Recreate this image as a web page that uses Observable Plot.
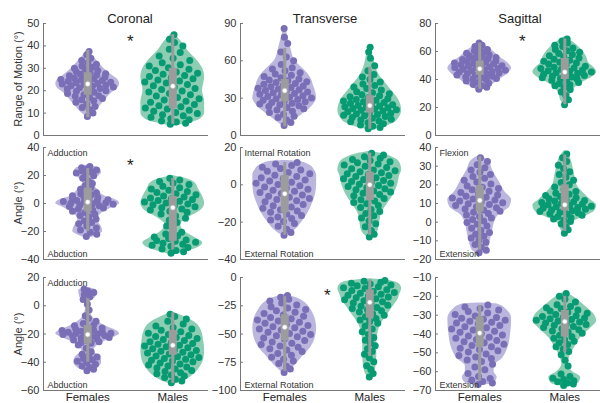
<!DOCTYPE html>
<html><head><meta charset="utf-8">
<script src="https://cdn.jsdelivr.net/npm/d3@7"></script>
<script src="https://cdn.jsdelivr.net/npm/@observablehq/plot@0.6"></script>
<style>
body{margin:0;background:#fff;font-family:"Liberation Sans",Arial,sans-serif;}
#chart{position:relative;width:600px;height:403px;overflow:hidden;background:#fff;}
.title{position:absolute;font-size:13px;color:#222;transform:translate(-50%,-50%);white-space:nowrap;}
.ylab{position:absolute;font-size:11px;color:#333;transform:translate(-50%,-50%) rotate(-90deg);white-space:nowrap;}
</style></head><body><div id="chart"></div>
<script>
// ---------- data ----------
const planes = ["Coronal", "Transverse", "Sagittal"];
const groups = ["Females", "Males"];
const rowLabels = ["Range of Motion (°)", "Angle (°)", "Angle (°)"];
const yDomains = [[0,50],[0,90],[0,80],[-40,40],[-40,20],[-20,40],[-60,20],[-100,0],[-70,-10]];
const yTicks = [[0,10,20,30,40,50],[0,30,60,90],[0,20,40,60,80],
  [-40,-20,0,20,40],[-40,-20,0,20],[-20,-10,0,10,20,30,40],
  [-60,-40,-20,0,20],[-100,-75,-50,-25,0],[-70,-60,-50,-40,-30,-20,-10]];
const topNotes = ["","","","Adduction","Internal Rotation","Flexion","Adduction","",""];
const bottomNotes = ["","","","Abduction","External Rotation","Extension","Abduction","External Rotation","Extension"];
const significant = [true,false,true,true,false,false,false,true,false];

// violin outlines: [value, relative density]
const femaleViolin = [
  [[8,0],[10,6],[13,12],[16,18],[19,24],[21,30],[23,32],[25,30],[27,24],[30,16],[33,10],[36,4],[38.5,0]],
  [[6.5,0],[10,6],[15,14],[20,22],[25,28],[30,31],[35,30],[40,28],[45,26],[50,22],[55,16],[60,10],[70,6],[80,3],[88,0]],
  [[32,0],[33,4],[36,12],[40,20],[44,28],[48,32],[52,28],[56,20],[60,14],[63,8],[67.5,0]],
  [[-25,0],[-23,8],[-20,15],[-17,14],[-12,10],[-7,14],[-3,24],[0,32],[2,30],[5,18],[10,10],[15,5],[19,10],[22,14],[25,12],[27.5,0]],
  [[-28,0],[-25,8],[-20,16],[-15,22],[-10,26],[-5,29],[0,30],[5,30],[8,28],[11,22],[12.5,14],[13,0]],
  [[-17.5,0],[-15,7],[-10,10],[-5,12],[0,14],[4,18],[8,28],[12,30],[16,24],[22,18],[28,12],[33,8],[36,0]],
  [[-47,0],[-44,10],[-40,14],[-36,12],[-32,6],[-27,12],[-23,24],[-20,32],[-18,30],[-15,20],[-10,8],[-8,5],[-5,3],[0,2],[3,3],[6,8],[11,9],[13,0]],
  [[-86,0],[-83,4],[-78,10],[-70,18],[-62,26],[-55,30],[-45,32],[-35,30],[-28,26],[-22,20],[-18,12],[-15,0]],
  [[-67.5,0],[-66,14],[-63,17],[-60,14],[-57,14],[-53,22],[-48,27],[-40,30],[-32,31],[-27,26],[-24,16],[-23.5,0]]
];
const maleViolin = [
  [[4,0],[5,10],[7,25],[10,30],[15,30],[20,28],[26,30],[30,28],[34,22],[38,14],[42,8],[46,0]],
  [[4.5,0],[6,10],[10,24],[15,30],[20,32],[25,31],[30,28],[36,22],[42,16],[48,10],[55,6],[65,3],[72.5,0]],
  [[21,0],[25,4],[30,6],[34,10],[38,18],[42,28],[45,32],[48,30],[52,24],[56,22],[62,16],[67,8],[70.5,0]],
  [[-37,0],[-35,10],[-32,24],[-28,30],[-25,24],[-20,12],[-15,8],[-10,16],[-5,28],[0,32],[5,30],[10,26],[15,22],[18,12],[20,0]],
  [[-29,0],[-25,8],[-20,10],[-15,12],[-10,18],[-5,24],[0,28],[5,30],[8,32],[12,30],[15,22],[17,10],[18,0]],
  [[-7.5,0],[-3,5],[0,8],[3,20],[6,30],[9,32],[12,26],[16,18],[20,12],[25,10],[30,8],[35,5],[38.5,0]],
  [[-56,0],[-54,8],[-50,18],[-44,26],[-38,30],[-32,31],[-25,30],[-18,28],[-12,22],[-8,12],[-4.5,0]],
  [[-90,0],[-87,3],[-80,6],[-70,7],[-60,7],[-50,8],[-40,12],[-35,16],[-30,20],[-25,24],[-20,28],[-15,30],[-10,32],[-6,30],[-3,22],[-1,0]],
  [[-68,0],[-66,14],[-63,16],[-60,8],[-56,3],[-52,5],[-47,10],[-42,16],[-37,26],[-33,32],[-30,30],[-25,20],[-20,8],[-17.5,0]]
];

// summary: [lower whisker, q1, median, q3, upper whisker]
const femaleStats = [[8,18,23,28,38],[7,27,36,45,70],[33,43,47.6,53,66],[-20,-6,1,11,25],[-27,-15,-4.8,5,12],[-15,5.4,11.6,19.6,35],[-40,-27,-20.4,-14,5],[-83,-56,-44,-33,-17],[-65,-47,-39.5,-31,-25]];
const maleStats = [[5,12,22,30,45],[5,18,24,32,55],[22,40,45.3,55,69],[-33,-27,-3,5,18],[-27,-8.4,0,6.8,17],[-5,6,9.3,20,36],[-55,-35,-28,-17.5,-5],[-70,-36,-22,-11,-2],[-50,-41.6,-33.4,-27.5,-20]];

// individual observations
const femalePts = [
  [8.5,10,11.5,12.5,13,14,14.8,15.5,16,16.5,17,17.5,17.8,18.2,18.8,19.3,19.7,20,20.4,20.8,21,21.3,21.6,22,22.2,22.5,22.8,23,23.2,23.5,23.8,24,24.2,24.5,24.8,25,25.3,25.6,26,26.3,26.7,27,27.3,27.6,28,28.5,29,29.5,30,30.5,31,31.8,32.5,33.5,34.5,36,37.5],
  [8,10.5,12.5,14.5,15.5,17,18.5,19.5,20.5,21.5,22.5,23.3,24,24.7,25.3,26,26.6,27.2,27.8,28.4,29,29.6,30.2,30.8,31.4,32,32.6,33.2,33.8,34.4,34.9,35.5,36.1,36.7,37.3,37.9,38.5,39.1,39.7,40.4,41.1,41.8,42.5,43.2,43.9,44.6,45.5,46.5,47.5,48.5,49.5,50.5,52,53.5,54.5,57,60,63,67,74,79,86],
  [33,34.5,35.5,36.5,37.3,38.1,38.9,39.6,40.3,40.8,41.3,41.8,42.3,42.8,43.3,43.8,44.2,44.6,45,45.4,45.8,46.2,46.6,47,47.4,47.8,48.2,48.6,49,49.4,49.8,50.2,50.6,51,51.4,51.8,52.3,52.8,53.3,53.8,54.3,54.8,55.3,55.8,56.4,57,57.6,58.2,58.8,59.4,60.5,61.5,62.5,63.5,64.5,66],
  [-23.5,-22,-20.5,-19,-17.5,-16,-14.5,-13.5,-12.5,-11,-9.5,-8.5,-7.5,-6.5,-5.5,-4.7,-4,-3.3,-2.6,-2.1,-1.6,-1.1,-0.6,-0.2,0.2,0.6,1,1.4,1.8,2.2,2.6,2.9,3.5,4.2,4.9,5.6,6.3,7,7.7,8.8,10.2,11.5,12.8,14.2,16,18,19.8,20.8,21.8,22.5,23.2,24,24.8,25.6,26.5],
  [-27,-25.5,-23.8,-22.2,-20.7,-19.6,-18.8,-18,-17.2,-16.4,-15.6,-14.7,-14,-13.3,-12.6,-11.9,-11.2,-10.5,-9.7,-9.1,-8.5,-7.9,-7.3,-6.7,-6.1,-5.5,-4.7,-4.1,-3.5,-2.9,-2.3,-1.7,-1.1,-0.5,0.2,0.8,1.4,2,2.6,3.2,3.8,4.4,5.2,5.9,6.6,7.3,8,8.7,9.4,10.3,11.2,12],
  [-16.5,-15,-13.5,-12,-10.8,-9.5,-8.5,-7.5,-6.5,-5.5,-4.3,-3.2,-2.1,-1.1,-0.2,0.6,1.4,2.2,3,3.8,4.6,5.3,5.9,6.5,7.1,7.7,8.3,8.9,9.4,9.9,10.4,10.9,11.4,11.9,12.4,12.9,13.4,13.9,14.5,15.2,15.9,16.6,17.3,18,18.7,19.4,20.5,21.5,22.5,23.5,24.5,25.6,26.8,28,29.2,30.8,32.5,34.5],
  [-46,-45,-43.8,-42.6,-41.4,-40.3,-39.3,-38.3,-37.3,-36.3,-35.3,-34.3,-32.5,-30,-27.8,-26.6,-26,-25.4,-24.8,-24.2,-23.6,-23,-22.4,-21.8,-21.4,-21,-20.6,-20.3,-20,-19.7,-19.4,-19.1,-18.8,-18.4,-18,-17.6,-17.2,-16.6,-15.8,-15,-14.2,-13.4,-12.6,-11,-9,-7,-3,1,4.5,6.3,8,9.3,10.5,11.8],
  [-84,-81,-78.5,-76,-74,-72.3,-70.6,-68.9,-67.2,-65.5,-64.2,-63,-61.8,-60.6,-59.4,-58.2,-57,-55.8,-54.5,-53.5,-52.5,-51.5,-50.5,-49.5,-48.5,-47.5,-46.5,-45.5,-44.5,-43.5,-42.5,-41.5,-40.5,-39.5,-38.5,-37.5,-36.5,-35.5,-34.3,-33.1,-31.9,-30.7,-29.5,-28.3,-27.1,-25.9,-24.3,-22.6,-20.9,-19.2,-17.5,-16],
  [-66.8,-66,-65.2,-64.4,-63.6,-62.5,-61,-59,-57.5,-56,-54.6,-53.8,-53,-52.2,-51.4,-50.6,-49.6,-48.9,-48.2,-47.5,-46.8,-46.1,-45.4,-44.7,-44.1,-43.5,-42.9,-42.3,-41.7,-41.1,-40.5,-39.7,-39.1,-38.5,-37.9,-37.3,-36.7,-36.1,-35.5,-34.7,-34.2,-33.7,-33.2,-32.7,-32.2,-31.7,-31.2,-30.5,-29.6,-28.8,-28,-27.2,-26.4,-25.6,-24.6]
];
const malePts = [
  [5,5.5,6,6.5,7,7.5,8.2,8.8,9.3,9.8,10.3,10.8,11.3,11.8,12.3,12.8,13.3,13.8,14.3,14.8,15.3,15.8,16.4,17,17.6,18.2,18.8,19.4,19.9,20.5,21,21.6,22.2,22.8,23.4,23.9,24.3,24.8,25.3,25.8,26.3,26.8,27.3,27.8,28.4,29,29.6,30.3,31,31.6,32.5,33.5,34.5,35.5,37,38.5,40,41.5,43,45],
  [5.5,6.5,7.5,8.5,9.5,10.3,11,11.7,12.4,13.1,13.8,14.5,15.2,15.8,16.3,16.8,17.3,17.8,18.4,19,19.6,20.2,20.7,21.2,21.7,22.2,22.7,23.2,23.7,24.2,24.7,25.3,25.9,26.5,27.1,27.7,28.3,28.9,29.5,30.3,31.1,31.9,32.7,33.5,34.3,35.1,36.5,37.7,38.9,40.1,41.3,43,45,47,49,52,56,62,67,71],
  [22,25.5,28.5,31,32.8,34.3,35.5,36.3,37.1,37.9,38.7,39.5,40.3,40.8,41.3,41.8,42.3,42.8,43.3,43.8,44.3,44.8,45.3,45.8,46.3,46.8,47.3,47.8,48.3,48.8,49.4,50.3,51,51.7,52.4,53.1,53.8,54.5,55.4,56.2,57,57.8,58.6,59.4,60.5,61.5,62.5,63.5,64.5,66,67.5,69],
  [-35.5,-34.5,-33.5,-32.5,-31.5,-30.5,-29.8,-29.1,-28.4,-27.7,-27,-26.5,-26,-25,-24,-23,-21.8,-20.5,-18.5,-16,-13.5,-12,-10.5,-9,-7.5,-6.3,-5.5,-4.7,-3.9,-3.1,-2.3,-1.6,-0.9,-0.3,0.4,1,1.6,2.2,2.8,3.4,4,4.7,5.4,6.2,7,7.8,8.6,9.4,10.3,11.2,12.3,13.5,14.6,15.7,16.8,18],
  [-28,-26.5,-24.5,-22.5,-20.8,-19.2,-17.8,-16.6,-15.4,-14.3,-13.2,-12.1,-11.1,-10.2,-9.4,-8.7,-8,-7.3,-6.6,-5.9,-5.2,-4.5,-3.9,-3.3,-2.7,-2.1,-1.5,-0.9,-0.3,0.3,0.8,1.3,1.8,2.3,2.8,3.3,3.8,4.4,5,5.5,6,6.5,7,7.5,8,8.6,9.3,10,10.6,11.2,11.8,12.4,13,13.6,14.3,15.1,16,16.9],
  [-6,-4,-2.5,-1,0.3,1,1.7,2.4,3.1,3.7,4.2,4.5,4.9,5.3,5.7,6.1,6.5,6.9,7.3,7.6,7.9,8.2,8.5,8.9,9.3,9.7,10.1,10.5,10.9,11.3,11.6,11.9,12.5,13.1,13.7,14.3,14.9,15.5,16.4,17.6,18.8,20,21.2,22.5,24,25.5,27,28.8,30.5,32.5,34.5,36.5],
  [-54.5,-53.2,-52,-50.8,-49.8,-49,-48.2,-47.4,-46.6,-45.8,-44.8,-44.1,-43.4,-42.7,-42,-41.3,-40.6,-39.7,-39.1,-38.5,-37.9,-37.3,-36.7,-36.1,-35.5,-34.7,-34.1,-33.5,-32.9,-32.3,-31.7,-31.1,-30.5,-29.7,-29.1,-28.5,-27.9,-27.3,-26.7,-26.1,-25.5,-24.6,-23.9,-23.2,-22.5,-21.8,-21.1,-20.4,-19.4,-18.4,-17.4,-16.4,-15.4,-14.4,-13,-11,-9.3,-7.6,-6],
  [-88,-85,-81.5,-78,-74.5,-71,-68,-65.5,-63,-60.5,-58,-55.5,-53,-50.5,-48,-45.5,-43,-40.5,-39,-37.6,-36.2,-34.8,-33.4,-32,-30.6,-29.5,-28.5,-27.5,-26.5,-25.5,-24.5,-23.5,-22.5,-21.5,-20.5,-19.6,-18.8,-18,-17.2,-16.4,-15.6,-14.8,-14,-13.2,-12.4,-11.6,-10.8,-9.8,-9,-8.2,-7.4,-6.6,-5.8,-5,-4.2,-3.4,-2.6],
  [-67.3,-66.6,-66,-65.4,-64.8,-64.2,-63.5,-62.5,-61.2,-57,-54,-51,-49.3,-48,-46.8,-45.6,-44.6,-43.8,-43,-42.2,-41.4,-40.6,-39.6,-39,-38.4,-37.8,-37.2,-36.6,-36,-35.4,-35,-34.6,-34.1,-33.6,-33.1,-32.7,-32.3,-31.9,-31.5,-31.1,-30.7,-30.3,-29.6,-29,-28.4,-27.8,-27.2,-26.6,-26,-25.4,-24.5,-23,-21.5,-20,-18.5]
];

// ---------- layout / style ----------
const X0 = [43, 240, 435], Y0 = [23, 147, 277], IW = 165, IH = [112, 112, 113];
const ML = 40, MR = 4, MT = 10;
const xDom = [0.48, 2.42];
const hwMax = 0.375;
const pointCol = ["#7A6FB6", "#069B73"];
const violinCol = ["#BAB6DE", "#8DCDB3"];
const boxCol = "#9C9C9C";
const axisCol = "#777";
const font = "Liberation Sans, Arial, Helvetica, sans-serif";

function halfWidth(shape, v) {
  const max = d3.max(shape, d => d[1]);
  for (let k = 0; k < shape.length - 1; k++) {
    const [a, da] = shape[k], [b, db] = shape[k + 1];
    if (v >= a && v <= b) {
      const t = b === a ? 0 : (v - a) / (b - a);
      return (da + t * (db - da)) / max * hwMax;
    }
  }
  return 0;
}

const chart = document.getElementById("chart");

planes.forEach((p, c) => {
  const t = document.createElement("div");
  t.className = "title"; t.textContent = p;
  t.style.left = [130, 325, 520][c] + "px"; t.style.top = "18px";
  chart.appendChild(t);
});
rowLabels.forEach((l, r) => {
  const t = document.createElement("div");
  t.className = "ylab"; t.textContent = l;
  t.style.left = "18px"; t.style.top = (Y0[r] + IH[r] / 2) + "px";
  chart.appendChild(t);
});

for (let r = 0; r < 3; r++) {
  for (let c = 0; c < 3; c++) {
    const i = r * 3 + c;
    const MB = r === 2 ? 13 : 6;
    const yDom = yDomains[i];
    const marks = [];
    [0, 1].forEach(g => {
      const shape = (g ? maleViolin : femaleViolin)[i].slice().sort((a, b) => a[0] - b[0]);
      const vmax = d3.max(shape, d => d[1]);
      const outline = shape.map(([v, d]) => ({v, x1: g + 1 - d / vmax * hwMax, x2: g + 1 + d / vmax * hwMax}));
      marks.push(Plot.areaX(outline, {y: "v", x1: "x1", x2: "x2", fill: violinCol[g], curve: "monotone-y"}));
      const vals = (g ? malePts : femalePts)[i];
      const pts = vals.map((v, k) => {
        const u = ((0.37 + k * 0.6180339887) % 1);
        const hw = halfWidth(shape, v);
        return {v, x: g + 1 + (2 * u - 1) * hw * 0.9};
      });
      marks.push(Plot.dot(pts, {x: "x", y: "v", r: 3.5, fill: pointCol[g], stroke: "none"}));
      const s = (g ? maleStats : femaleStats)[i];
      marks.push(Plot.ruleX([{x: g + 1, a: s[0], b: s[4]}], {x: "x", y1: "a", y2: "b", stroke: boxCol, strokeWidth: 3}));
      marks.push(Plot.ruleX([{x: g + 1, a: s[1], b: s[3]}], {x: "x", y1: "a", y2: "b", stroke: boxCol, strokeWidth: 8}));
      marks.push(Plot.dot([{x: g + 1, m: s[2]}], {x: "x", y: "m", r: 2.4, fill: "white", stroke: "#bbb", strokeWidth: 0.5}));
    });
    // axes
    marks.push(Plot.ruleX([xDom[0]], {stroke: axisCol, strokeWidth: 1}));
    marks.push(Plot.ruleY([yDom[0]], {stroke: axisCol, strokeWidth: 1}));
    marks.push(Plot.ruleY(yTicks[i], {y: d => d, x1: xDom[0], x2: xDom[0] + 0.035, stroke: axisCol}));
    marks.push(Plot.axisY(yTicks[i], {tickSize: 0, tickPadding: 4, label: null, fontSize: 11}));
    if (r === 2) {
      marks.push(Plot.axisX([1, 2], {tickSize: 0, tickPadding: 2, label: null, fontSize: 11.5, fill: "#222", tickFormat: d => groups[d - 1]}));
    }
    if (topNotes[i]) marks.push(Plot.text([topNotes[i]], {frameAnchor: "top-left", dx: 4, dy: 2, textAnchor: "start", lineAnchor: "top", fontSize: 9, fill: "#333"}));
    if (bottomNotes[i]) marks.push(Plot.text([bottomNotes[i]], {frameAnchor: "bottom-left", dx: 4, dy: -2.5, textAnchor: "start", lineAnchor: "bottom", fontSize: 9, fill: "#333"}));
    if (significant[i]) marks.push(Plot.text(["*"], {x: 1.5, frameAnchor: "top", dy: 18, fontSize: 17, fill: "#222", lineAnchor: "middle"}));

    const svg = Plot.plot({
      width: ML + IW + MR, height: MT + IH[r] + MB,
      marginLeft: ML, marginRight: MR, marginTop: MT, marginBottom: MB,
      x: r === 2 ? {domain: xDom} : {domain: xDom, axis: null},
      y: {domain: yDom},
      style: {fontFamily: font, fontSize: "11px", color: "#333", background: "transparent", overflow: "visible"},
      marks
    });
    svg.style.position = "absolute";
    svg.style.left = (X0[c] - ML) + "px";
    svg.style.top = (Y0[r] - MT) + "px";
    chart.appendChild(svg);
  }
}
</script></body></html>
